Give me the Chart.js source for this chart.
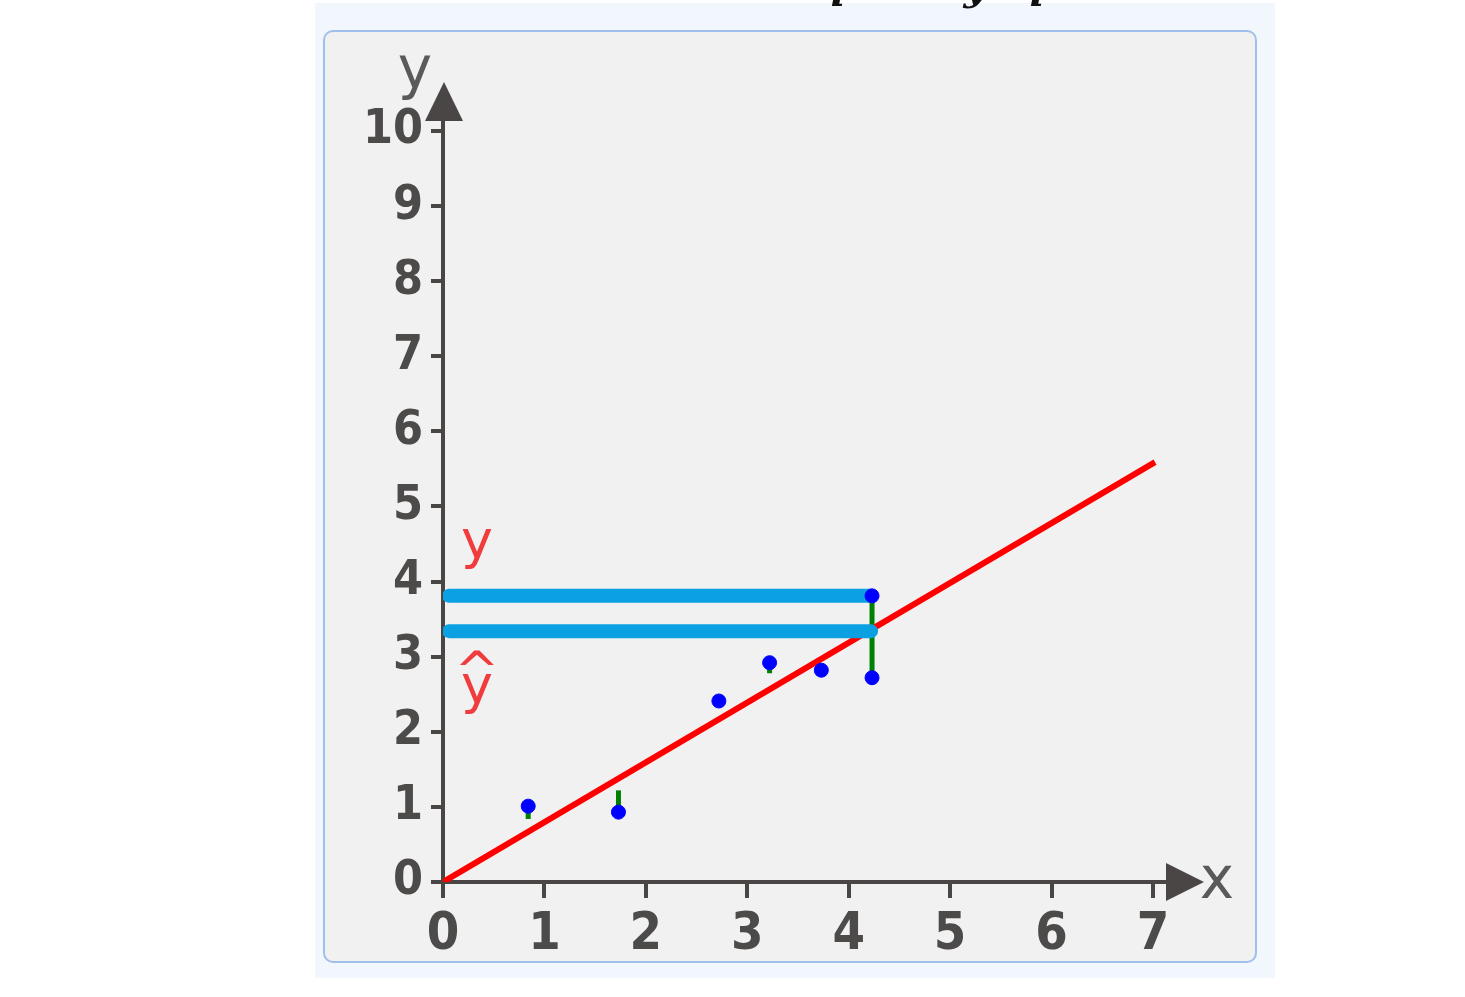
<!DOCTYPE html>
<html>
<head>
<meta charset="utf-8">
<script src="https://cdn.jsdelivr.net/npm/chart.js@4"></script>
<style>
  html, body { margin: 0; padding: 0; background: #fff; }
  #outer { position: absolute; left: 315px; top: 3px; width: 960px; height: 975px; background: #f2f6fd; }
  #panel { position: absolute; left: 323px; top: 30px; width: 930px; height: 929px; background: #f1f1f1;
           border: 2px solid #a0bfea; border-radius: 10px; }
  #wrap { position: absolute; left: 0; top: 0; width: 1465px; height: 997px; }
</style>
</head>
<body>
<div id="outer"></div>
<div id="panel"></div>
<div id="wrap"><canvas id="chart"></canvas></div>
<script>
// observed points
const pointX = [0.84, 1.73, 2.72, 3.22, 3.73, 4.23, 4.23];
const pointY = [1.01, 0.93, 2.41, 2.92, 2.82, 2.72, 3.81];
// where each green residual ends (on the fitted line)
const fitY = [0.84, 1.22, 2.41, 2.78, 2.82, 3.36, 3.36];

// fitted (red) line
const lineX = [0, 7.02];
const lineY = [0, 5.59];

// the two blue guides, y and y-hat
const guideX = [0.06, 4.22];
const guideY = [3.81, 3.34];

const xTicks = [0, 1, 2, 3, 4, 5, 6, 7];
const yTicks = [0, 1, 2, 3, 4, 5, 6, 7, 8, 9, 10];

const axisColor = '#4a4646';
const labelColor = '#4d4a4a';

const residualSets = pointX.map((x, i) => ({
    data: [{x: x, y: pointY[i]}, {x: x, y: fitY[i]}],
    showLine: true,
    borderColor: '#008000',
    borderWidth: 5,
    pointRadius: 0,
    order: 4
}));

const guideSets = guideY.map(y => ({
    data: guideX.map(x => ({x: x, y: y})),
    showLine: true,
    borderColor: '#0aa0e2',
    borderWidth: 14,
    borderCapStyle: 'round',
    pointRadius: 0,
    order: 1
}));

const extras = {
    id: 'extras',
    afterDraw(chart) {
        const ctx = chart.ctx;
        const a = chart.chartArea;
        const xs = chart.scales.x, ys = chart.scales.y;
        ctx.save();
        // arrow heads
        ctx.fillStyle = axisColor;
        ctx.beginPath();
        ctx.moveTo(a.left + 1, a.top - 38);
        ctx.lineTo(a.left - 18, a.top + 1);
        ctx.lineTo(a.left + 20, a.top + 1);
        ctx.closePath();
        ctx.fill();
        ctx.beginPath();
        ctx.moveTo(a.right + 36, a.bottom);
        ctx.lineTo(a.right - 2, a.bottom - 19);
        ctx.lineTo(a.right - 2, a.bottom + 19);
        ctx.closePath();
        ctx.fill();

        // axis names
        ctx.fillStyle = '#5b5959';
        ctx.font = '58px "DejaVu Sans"';
        ctx.textAlign = 'center';
        ctx.textBaseline = 'alphabetic';
        ctx.fillText('y', 415, 88);
        ctx.fillText('x', 1217, 898);

        // red y / y-hat labels
        ctx.fillStyle = '#f03c3c';
        ctx.font = '54px "DejaVu Sans"';
        const lx = xs.getPixelForValue(0.335);
        ctx.fillText('y', lx, ys.getPixelForValue(4.31));
        ctx.fillText('y', lx, ys.getPixelForValue(2.38));
        ctx.fillText('^', lx, ys.getPixelForValue(2.38) - 14);

        // cut-off formula above the panel
        ctx.fillStyle = '#111';
        ctx.font = 'italic bold 40px "DejaVu Serif"';
        ctx.fillText('i', 838, 6);
        ctx.fillText('y', 975, 0);
        ctx.fillText('i', 1037, 6);
        ctx.restore();
    }
};

new Chart(document.getElementById('chart'), {
    type: 'scatter',
    data: {
        datasets: [
            {
                data: pointX.map((x, i) => ({x: x, y: pointY[i]})),
                backgroundColor: '#0000ff',
                borderColor: '#0000ff',
                pointRadius: 7,
                order: 0
            },
            ...guideSets,
            {
                data: lineX.map((x, i) => ({x: x, y: lineY[i]})),
                showLine: true,
                borderColor: '#ff0000',
                borderWidth: 6,
                pointRadius: 0,
                order: 2
            },
            ...residualSets
        ]
    },
    options: {
        responsive: true,
        maintainAspectRatio: false,
        animation: false,
        devicePixelRatio: 1,
        layout: { padding: { left: 343, right: 297, top: 120, bottom: 25 } },
        plugins: { legend: { display: false }, tooltip: { enabled: false } },
        scales: {
            x: {
                type: 'linear',
                min: 0,
                max: 7.148,
                afterBuildTicks: s => { s.ticks = xTicks.map(v => ({value: v})); },
                afterFit: s => { s.height = 90; },
                grid: { display: true, drawOnChartArea: false, drawTicks: true, tickLength: 16,
                        color: axisColor, lineWidth: 4 },
                border: { display: true, color: axisColor, width: 4 },
                ticks: { color: labelColor, padding: 6,
                         font: { family: '"DejaVu Sans Condensed", "DejaVu Sans"', size: 52, weight: 'bold' } }
            },
            y: {
                type: 'linear',
                min: 0,
                max: 10.146,
                afterBuildTicks: s => { s.ticks = yTicks.map(v => ({value: v})); },
                afterFit: s => { s.width = 100; },
                grid: { display: true, drawOnChartArea: false, drawTicks: true, tickLength: 12,
                        color: axisColor, lineWidth: 4 },
                border: { display: true, color: axisColor, width: 4 },
                ticks: { color: labelColor, padding: 8,
                         font: { family: '"DejaVu Sans Condensed", "DejaVu Sans"', size: 48, weight: 'bold' } }
            }
        }
    },
    plugins: [extras]
});
</script>
</body>
</html>
